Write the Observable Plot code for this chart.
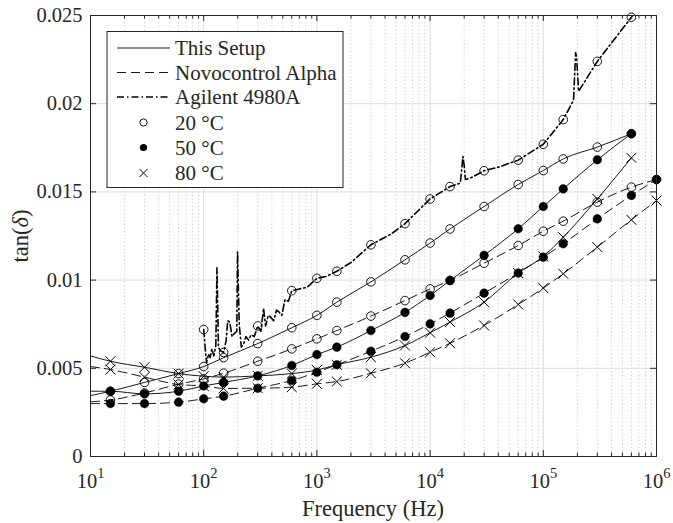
<!DOCTYPE html>
<html><head><meta charset="utf-8">
<script src="https://cdn.jsdelivr.net/npm/d3@7"></script>
<script src="https://cdn.jsdelivr.net/npm/@observablehq/plot@0.6"></script>
<style>
body{margin:0;background:#fff}
svg text, svg tspan { font-family: "Liberation Serif", Tinos, "Times New Roman", "DejaVu Serif", serif !important; }
</style>
</head><body><div id="chart"></div>
<script>
// ---------- data ----------
const freqs = [10, 15, 30, 60, 100, 150, 300, 600, 1000, 1500, 3000, 6000, 1e4, 1.5e4, 3e4, 6e4, 1e5, 1.5e5, 3e5, 6e5, 1e6];
const setup20 = [0.00345, 0.0037, 0.0042, 0.0047, 0.0051, 0.0056, 0.0064, 0.0073, 0.0080, 0.00875, 0.0099, 0.01115, 0.0121, 0.0129, 0.01417, 0.01542, 0.01621, 0.01687, 0.01754, 0.0183, null];
const setup50 = [0.0037, 0.0037, 0.00355, 0.0037, 0.0040, 0.0042, 0.00457, 0.00516, 0.00578, 0.0062, 0.00714, 0.00817, 0.00913, 0.00998, 0.0114, 0.01291, 0.01417, 0.01517, 0.01682, 0.0183, null];
const setup80 = [0.0057, 0.0054, 0.00506, 0.0047, 0.00455, 0.0045, 0.00457, 0.0047, 0.0049, 0.0052, 0.00563, 0.00629, 0.00702, 0.00762, 0.00875, 0.0104, 0.01134, 0.01243, 0.0146, 0.01693, null];
const novo20 = [0.0031, 0.0032, 0.0036, 0.0041, 0.0044, 0.00472, 0.0054, 0.0061, 0.00667, 0.00714, 0.00796, 0.00884, 0.0095, 0.00998, 0.01096, 0.01196, 0.01277, 0.01334, 0.01442, 0.01527, 0.0157];
const novo50 = [0.0030, 0.0030, 0.0030, 0.00308, 0.00327, 0.00342, 0.00387, 0.00431, 0.00478, 0.0052, 0.00597, 0.0068, 0.00752, 0.00813, 0.00926, 0.0104, 0.0113, 0.01206, 0.01347, 0.0148, 0.0157];
const novo80 = [0.0051, 0.00493, 0.0045, 0.00408, 0.0040, 0.00386, 0.00387, 0.00393, 0.00412, 0.00425, 0.00472, 0.00529, 0.00591, 0.00642, 0.00743, 0.00862, 0.00955, 0.01036, 0.01187, 0.01342, 0.01451];

const agilentFreq = [100,103,106,110,114,118,123,128,131,135,140,150,158,163,170,178,188,196,199,206,215,226,236,249,262,280,300,320,338,352,372,390,415,440,462,490,523,560,600,700,820,1000,1200,1500,2000,3000,4500,6000,1e4,1.5e4,1.85e4,1.95e4,2.0e4,2.05e4,2.3e4,3e4,4e4,6e4,1e5,1.5e5,1.85e5,1.93e5,1.97e5,2.05e5,3e5,6e5,6.6e5];
const agilentTan = [0.0072,0.0062,0.0053,0.0058,0.0056,0.0061,0.0057,0.0063,0.0107,0.0062,0.0060,0.0059,0.0066,0.0077,0.0076,0.0068,0.0070,0.0071,0.0116,0.0075,0.0062,0.0064,0.0068,0.0066,0.0069,0.0068,0.0074,0.0071,0.0084,0.0074,0.0080,0.0079,0.0077,0.0083,0.0082,0.0080,0.0089,0.0088,0.0094,0.0095,0.0096,0.0101,0.0102,0.0105,0.0110,0.0120,0.0126,0.0132,0.0146,0.0153,0.0155,0.0170,0.0165,0.0157,0.0158,0.0162,0.0164,0.0168,0.0177,0.0191,0.0202,0.0229,0.0226,0.0207,0.0224,0.0249,0.0253];
const agilentMarkerFreqs = [100,150,300,600,1000,1500,3000,6000,1e4,1.5e4,3e4,6e4,1e5,1.5e5,3e5,6e5];

const majorX = [10, 100, 1000, 1e4, 1e5, 1e6];
const minorX = [10, 100, 1000, 1e4, 1e5].flatMap(d => [2,3,4,5,6,7,8,9].map(k => k * d));
const yTicks = [0, 0.005, 0.01, 0.015, 0.02, 0.025];
const legendLabels = ["This Setup", "Novocontrol Alpha", "Agilent 4980A", "20 °C", "50 °C", "80 °C"];

// ---------- tidy rows ----------
const seriesDefs = [
  {key:"s20", inst:"setup", temp:20, vals:setup20},
  {key:"s50", inst:"setup", temp:50, vals:setup50},
  {key:"s80", inst:"setup", temp:80, vals:setup80},
  {key:"n20", inst:"novo", temp:20, vals:novo20},
  {key:"n50", inst:"novo", temp:50, vals:novo50},
  {key:"n80", inst:"novo", temp:80, vals:novo80}
];
const rows = seriesDefs.flatMap(s => freqs.map((f, i) => ({f, v: s.vals[i], inst: s.inst, temp: s.temp, key: s.key})).filter(d => d.v != null));
const agRows = agilentFreq.map((f, i) => ({f, v: agilentTan[i], inst: "agilent", temp: 20, key: "ag"}));
const markRows = rows.filter(d => d.f !== freqs[0]).concat(agRows.filter(d => agilentMarkerFreqs.includes(d.f)));

const W = 673, H = 523, mL = 90, mR = 17, mT = 15, mB = 67;
const plotH = H - mT - mB, plotW = W - mL - mR;
const ink = "#262626";
const serif = "Liberation Serif, Tinos, Times New Roman, DejaVu Serif, serif";
const dashed = "9,5", dashdot = "7,3,1.5,3";

const chart = Plot.plot({
  width: W, height: H,
  marginLeft: mL, marginRight: mR, marginTop: mT, marginBottom: mB,
  x: {type: "log", domain: [10, 1e6]},
  y: {domain: [0, 0.025]},
  style: {fontFamily: serif, fontSize: "21px", background: "white", color: ink},
  marks: [
    Plot.gridX(minorX, {stroke: "#c2c2c2", strokeOpacity: 1, strokeDasharray: "1,2.6"}),
    Plot.gridX(majorX, {stroke: "#dcdcdc", strokeOpacity: 1}),
    Plot.gridY(yTicks, {stroke: "#dcdcdc", strokeOpacity: 1}),
    Plot.line(rows.filter(d => d.inst === "setup"), {x: "f", y: "v", z: "key", curve: "monotone-x", stroke: "black", strokeWidth: 0.9}),
    Plot.line(rows.filter(d => d.inst === "novo"), {x: "f", y: "v", z: "key", curve: "monotone-x", stroke: "black", strokeWidth: 0.9, strokeDasharray: dashed}),
    Plot.line(agRows, {x: "f", y: "v", curve: "linear", stroke: "black", strokeWidth: 1.6, strokeDasharray: dashdot, clip: true}),
    Plot.dot(markRows.filter(d => d.temp === 20), {x: "f", y: "v", r: 4.3, stroke: "black", fill: "none", strokeWidth: 0.9}),
    Plot.dot(markRows.filter(d => d.temp === 50), {x: "f", y: "v", r: 4.3, fill: "black", stroke: "black", strokeWidth: 0.5}),
    Plot.dot(markRows.filter(d => d.temp === 80), {x: "f", y: "v", r: 4.6, symbol: "times", stroke: "black", strokeWidth: 1}),
    // inward ticks on all four sides
    Plot.tickX(majorX, {x: d => d, insetTop: plotH - 6, stroke: ink}),
    Plot.tickX(majorX, {x: d => d, insetBottom: plotH - 6, stroke: ink}),
    Plot.tickX(minorX, {x: d => d, insetTop: plotH - 3.5, stroke: ink}),
    Plot.tickX(minorX, {x: d => d, insetBottom: plotH - 3.5, stroke: ink}),
    Plot.tickY(yTicks, {y: d => d, insetRight: plotW - 6, stroke: ink}),
    Plot.tickY(yTicks, {y: d => d, insetLeft: plotW - 6, stroke: ink}),
    Plot.frame({stroke: ink, strokeWidth: 1}),
    Plot.axisX(majorX, {anchor: "bottom", tickSize: 0, tickPadding: 17, fontSize: 20.5, label: null, tickFormat: d => "10^" + Math.round(Math.log10(d))}),
    Plot.axisY(yTicks, {anchor: "left", tickSize: 0, tickPadding: 8, fontSize: 20.5, label: null, tickFormat: d => String(d)})
  ]
});

document.getElementById("chart").appendChild(chart);
const svg = d3.select(chart);
svg.attr("font-family", serif);

// superscript exponents on x tick labels
svg.selectAll('g[aria-label="x-axis tick label"] text').each(function() {
  const [b, e] = this.textContent.split("^");
  const t = d3.select(this);
  t.text(null);
  t.append("tspan").text(b);
  t.append("tspan").attr("dy", "-10").attr("font-size", "14.5").text(e);
});

// axis labels
svg.append("text")
  .attr("x", (mL + W - mR) / 2).attr("y", 516)
  .attr("text-anchor", "middle").attr("font-size", 22.5).attr("fill", ink)
  .text("Frequency (Hz)");
const yl = svg.append("text")
  .attr("transform", "translate(27.5,236) rotate(-90)")
  .attr("text-anchor", "middle").attr("font-size", 22.5).attr("fill", ink);
yl.append("tspan").text("tan(");
yl.append("tspan").attr("font-style", "italic").text("δ");
yl.append("tspan").text(")");

// legend
const lg = svg.append("g").attr("text-anchor", "start");
lg.append("rect").attr("x", 107).attr("y", 31.5).attr("width", 236).attr("height", 156)
  .attr("fill", "white").attr("stroke", ink).attr("stroke-width", 1);
const rowY = [48, 72.5, 97, 122.5, 147.5, 173];
const lineStyles = [null, dashed, dashdot];
const lineWidths = [0.9, 0.9, 1.6];
legendLabels.forEach((lab, i) => {
  const y = rowY[i];
  if (i < 3) {
    lg.append("line").attr("x1", 117).attr("x2", 170).attr("y1", y).attr("y2", y)
      .attr("stroke", "black").attr("stroke-width", lineWidths[i])
      .attr("stroke-dasharray", lineStyles[i]);
  } else if (i === 3) {
    lg.append("circle").attr("cx", 143.5).attr("cy", y).attr("r", 3.6).attr("fill", "none").attr("stroke", "black").attr("stroke-width", 0.9);
  } else if (i === 4) {
    lg.append("circle").attr("cx", 143.5).attr("cy", y).attr("r", 3.6).attr("fill", "black");
  } else {
    lg.append("path").attr("transform", `translate(143.5,${y})`)
      .attr("d", d3.symbol(d3.symbolTimes, 45)()).attr("fill", "none").attr("stroke", "black").attr("stroke-width", 1);
  }
  lg.append("text").attr("x", 175).attr("y", y + 7).attr("text-anchor", "start").attr("font-size", 21).attr("fill", ink).text(lab);
});

// make sure every text uses the serif face
svg.selectAll("text, tspan").attr("font-family", serif);
</script>
</body></html>
